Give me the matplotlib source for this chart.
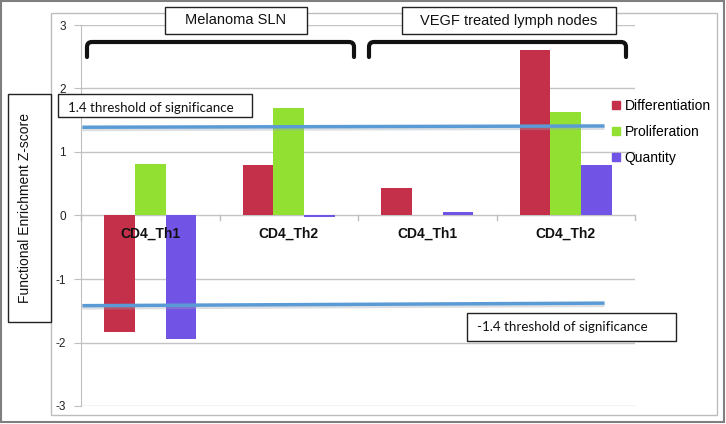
import matplotlib
matplotlib.use("Agg")
import matplotlib.pyplot as plt
from matplotlib.patches import Rectangle, PathPatch
from matplotlib.path import Path
import numpy as np

categories = ["CD4_Th1", "CD4_Th2", "CD4_Th1", "CD4_Th2"]
series = ["Differentiation", "Proliferation", "Quantity"]
differentiation = [-1.83, 0.80, 0.44, 2.61]
proliferation = [0.81, 1.69, 0.0, 1.63]
quantity = [-1.95, -0.02, 0.05, 0.80]
colors = ["#C4304A", "#92E032", "#7153E6"]
yticks = [-3, -2, -1, 0, 1, 2, 3]
upper_threshold = [1.39, 1.41]
lower_threshold = [-1.42, -1.38]
threshold_x = [-0.49, 3.28]
group_labels = ["Melanoma SLN", "VEGF treated lymph nodes"]
upper_text = "1.4 threshold of significance"
lower_text = "-1.4 threshold of significance"
ylabel = "Functional Enrichment Z-score"

plt.rcParams['font.family'] = ['Liberation Sans', 'DejaVu Sans']
W, H = 726, 424
fig = plt.figure(figsize=(W / 100, H / 100), dpi=100)


def fx(px):
    return px / W


def fy(py):
    return 1 - py / H


def frect(x0, y0, x1, y1, ec, lw, z=1):
    r = Rectangle((fx(x0), fy(y1)), fx(x1) - fx(x0), fy(y0) - fy(y1),
                  transform=fig.transFigure, fill=False, edgecolor=ec,
                  linewidth=lw, zorder=z)
    fig.patches.append(r)


# outer and inner frames
frect(1, 1, 724, 422, "#7F7F7F", 1.5)
frect(51, 13, 717, 415, "#BDBDBD", 1.0)

ax = fig.add_axes([fx(81), fy(406), fx(635) - fx(81), fy(25) - fy(406)])
ax.set_facecolor("none")
x = np.arange(len(categories))
bw = 0.222
for k, (vals, c, name) in enumerate(zip([differentiation, proliferation, quantity], colors, series)):
    ax.bar(x + (k - 1) * bw, vals, width=bw, color=c, label=name, zorder=3)

ax.set_xlim(-0.5, len(categories) - 0.5)
ax.set_ylim(-3, 3)
ax.set_yticks(yticks)
ax.set_yticklabels([str(t) for t in yticks], fontsize=8.5, color="#222222")
ax.tick_params(axis='y', length=5, color="#BFBFBF", pad=6)
ax.set_xticks([])
for s in ["top", "right", "bottom"]:
    ax.spines[s].set_visible(False)
ax.spines["left"].set_color("#BFBFBF")
ax.yaxis.grid(True, color="#C4C4C4", linewidth=1, zorder=0)
ax.set_axisbelow(True)

# category separator ticks on zero line
for b in np.arange(len(categories) + 1) - 0.5:
    ax.plot([b, b], [0, -0.07], color="#BFBFBF", lw=1, zorder=2, clip_on=False)

for i, lab in enumerate(categories):
    ax.text(i, -0.28, lab, ha="center", va="center", fontsize=10,
            fontweight="bold", color="#111111", zorder=5)

# threshold lines with faint shadow
for ys in [upper_threshold, lower_threshold]:
    ax.plot(threshold_x, [v - 0.03 for v in ys], color="#9AA4B0", lw=3, alpha=0.35,
            zorder=4, solid_capstyle="butt")
    ax.plot(threshold_x, ys, color="#5B9BD5", lw=2.5, zorder=5, solid_capstyle="butt")

# legend
handles = [Rectangle((0, 0), 1, 1, color=c) for c in colors]
fig.legend(handles, series, loc="upper left", bbox_to_anchor=(fx(612), fy(99)),
           frameon=False, fontsize=10, handlelength=0.55, handleheight=0.55,
           handletextpad=0.35, labelspacing=0.85, borderpad=0, borderaxespad=0)


def boxed_text(x0, y0, x1, y1, text, fontsize, ha="center", tx=None, family=None, rot=0, ty=None):
    frect(x0, y0, x1, y1, "#222222", 1.0, z=5)
    r = Rectangle((fx(x0), fy(y1)), fx(x1) - fx(x0), fy(y0) - fy(y1),
                  transform=fig.transFigure, facecolor="white", edgecolor="none", zorder=4)
    fig.patches.append(r)
    if tx is None:
        tx = (x0 + x1) / 2
    if ty is None:
        ty = (y0 + y1) / 2
    kw = {}
    if family:
        kw["family"] = family
    fig.text(fx(tx), fy(ty), text, ha=ha, va="center", fontsize=fontsize,
             rotation=rot, color="#111111", zorder=6, **kw)


boxed_text(165, 7, 307, 34, group_labels[0], 10.5)
boxed_text(402, 7, 616, 34, group_labels[1], 10.5)
boxed_text(58, 94, 252, 117, upper_text, 9.6, ha="left", tx=68,
           family=["Lato", "DejaVu Sans"], ty=108)
boxed_text(467, 313, 676, 341, lower_text, 9.6, ha="left", tx=477,
           family=["Lato", "DejaVu Sans"], ty=327)
boxed_text(8, 94, 51, 322, ylabel, 10, rot=90, tx=25, ty=208)


def bracket(x0, x1, ytop, ybot, r=5):
    pts = [(x0, ybot), (x0, ytop + r), (x0, ytop), (x0 + r, ytop),
           (x1 - r, ytop), (x1, ytop), (x1, ytop + r), (x1, ybot)]
    codes = [Path.MOVETO, Path.LINETO, Path.CURVE3, Path.CURVE3,
             Path.LINETO, Path.CURVE3, Path.CURVE3, Path.LINETO]
    verts = [(fx(a), fy(b)) for a, b in pts]
    p = PathPatch(Path(verts, codes), transform=fig.transFigure, fill=False,
                  edgecolor="#111111", linewidth=3, capstyle="round", zorder=5)
    fig.patches.append(p)


bracket(87, 354, 42, 57)
bracket(369, 626, 42, 57)

fig.savefig("out.png", dpi=100)
